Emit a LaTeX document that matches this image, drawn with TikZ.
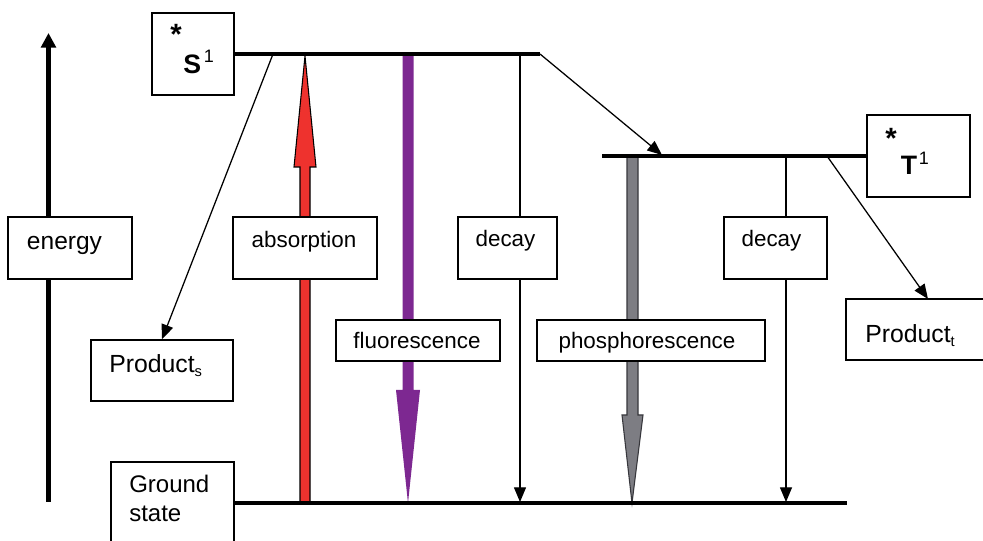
\documentclass[tikz,border=0pt]{standalone}
\usepackage{fontspec}
\setmainfont{Liberation Sans}
\usetikzlibrary{arrows.meta}
\pgfdeclarelayer{bg}
\pgfsetlayers{bg,main}
\definecolor{absred}{RGB}{238,50,46}
\definecolor{flpurple}{RGB}{125,40,145}
\definecolor{phgrey}{RGB}{125,125,131}
\definecolor{phedge}{RGB}{55,55,60}
\begin{document}
\begin{tikzpicture}[x=0.75pt,y=-0.75pt,
  box/.style={draw, line width=1.1pt, fill=white, rectangle, inner sep=0pt},
  lvl/.style={line width=3.1pt},
  thinarrow/.style={line width=0.95pt, -{Triangle[length=11pt,width=9pt]}},
  lbl/.style={inner sep=0pt, anchor=base, font=\fontsize{16.8}{20}\selectfont},
  big/.style={inner sep=0pt, anchor=base west, font=\fontsize{18.6}{22}\selectfont},
  state/.style={inner sep=0pt, anchor=base west, font=\fontsize{20}{24}\selectfont\bfseries},
  sup/.style={inner sep=0pt, anchor=base west, font=\fontsize{13.5}{16}\selectfont},
  star/.style={inner sep=0pt, anchor=base, font=\fontsize{22}{24}\selectfont\bfseries}]
\useasboundingbox (0,0) rectangle (983,541);
\clip (0,0) rectangle (983,541);

% boxes
\node[box, minimum width=93pt, minimum height=46.5pt] (energy) at (70,248) {};
\node[box, minimum width=108pt, minimum height=46.5pt] (absorption) at (305,248) {};
\node[box, minimum width=74.25pt, minimum height=46.5pt] (decayA) at (507.5,248) {};
\node[box, minimum width=77.25pt, minimum height=46.5pt] (decayB) at (775.5,248) {};
\node[box, minimum width=123pt, minimum height=30.75pt] (fluor) at (418,340.5) {};
\node[box, minimum width=171pt, minimum height=30.75pt] (phos) at (651,340.5) {};
\node[box, minimum width=106.5pt, minimum height=45.75pt] (prodS) at (162,370.5) {};
\node[box, minimum width=108pt, minimum height=45.75pt] (prodT) at (918,329.5) {};
\node[box, minimum width=92.25pt, minimum height=61.5pt] (ground) at (172.5,503) {};
\node[box, minimum width=61.5pt, minimum height=61.5pt] (S1) at (193,54) {};
\node[box, minimum width=77.25pt, minimum height=61.5pt] (T1) at (918.5,156) {};

% texts
\node[lbl, font=\fontsize{18.4}{22}\selectfont] (energyT) at (64.5,250) {energy};
\node[lbl] (absT) at (304,248) {absorption};
\node[lbl] (decayAT) at (505.5,247) {decay};
\node[lbl] (decayBT) at (771.5,247) {decay};
\node[lbl] (fluorT) at (417,349) {fluorescence};
\node[lbl] (phosT) at (647,349) {phosphorescence};
\node[big] (prodST) at (109,373) {Product\raisebox{-0.25ex}{\fontsize{11}{12}\selectfont s}};
\node[big] (prodTT) at (865,343) {Product\raisebox{-0.25ex}{\fontsize{11}{12}\selectfont t}};
\node[big, font=\fontsize{18}{22}\selectfont] (groundT1) at (129,493) {Ground};
\node[big, font=\fontsize{18}{22}\selectfont] (groundT2) at (129,522) {state};
\node[star] (S1star) at (176,44.5) {*};
\node[state] (S1S) at (183,74) {S};
\node[sup] (S1one) at (203.5,63) {1};
\node[star] (T1star) at (891,148.5) {*};
\node[state] (T1T) at (900.5,175) {T};
\node[sup] (T1one) at (918.5,165) {1};

% level coordinates
\coordinate (s1end) at (540,54);
\coordinate (t1start) at (602,156);
\coordinate (gsend) at (847,503);
\coordinate (psStart) at (273,54);
\coordinate (iscTip) at (662,155);
\coordinate (ptStart) at (827,156);
\coordinate (ptTip) at (928,299);
\coordinate (dAtop) at (520,55);
\coordinate (dAbot) at (520,502);
\coordinate (dBtop) at (786,157);
\coordinate (dBbot) at (786,502);
\coordinate (enBot) at (48.5,502);
\coordinate (enTop) at (48.5,33);

\begin{pgfonlayer}{bg}
  \fill[white] (0,0) rectangle (983,541);
  % energy axis
  \draw[line width=3.2pt, -{Triangle[length=11pt,width=11pt]}] (enBot) -- (enTop);
  % block arrows
  \draw[fill=absred, draw=black, line width=0.8pt]
    (300,503) -- (300,167) -- (294,167) -- (305,56) -- (316,167) -- (310,167) -- (310,503) -- cycle;
  \fill[flpurple]
    (402.5,54) -- (402.5,390) -- (396,390) -- (408,503) -- (420,390) -- (413.5,390) -- (413.5,54) -- cycle;
  \draw[fill=phgrey, draw=phedge, line width=0.8pt]
    (627,157) -- (627,415) -- (622,415) -- (632,503) -- (643,415) -- (638,415) -- (638,157) -- cycle;
  % thin arrows
  \draw[thinarrow] (dAtop) -- (dAbot);
  \draw[thinarrow] (dBtop) -- (dBbot);
  \draw[thinarrow] (psStart) -- (prodS.north);
  \draw[thinarrow] (ptStart) -- (ptTip);
  \draw[thinarrow] (s1end) -- (iscTip);
  % levels
  \draw[lvl] (S1.east) -- (s1end);
  \draw[lvl] (t1start) -- (T1.west);
  \draw[lvl] (ground.east) -- (gsend);
\end{pgfonlayer}
\end{tikzpicture}
\end{document}
